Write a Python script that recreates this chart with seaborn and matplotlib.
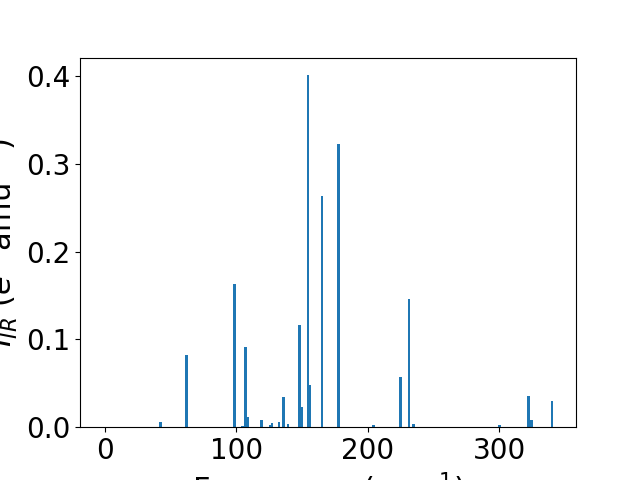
import numpy as np
import pandas as pd
import matplotlib
matplotlib.use("Agg")
import matplotlib.pyplot as plt
import seaborn as sns

# Vibrational frequencies (cm^-1) and IR intensities
freq = [42.1, 61.9, 98.4, 104.5, 107.1, 108.6, 119.0, 126.1, 127.1, 132.5,
        136.0, 139.3, 147.9, 149.7, 154.4, 155.5, 165.2, 177.7, 204.3, 225.1,
        231.4, 234.6, 300.5, 322.3, 324.5, 340.2]
inten = [0.006, 0.082, 0.163, 0.0015, 0.0915, 0.0115, 0.008, 0.0025, 0.0045, 0.0057,
         0.034, 0.0034, 0.116, 0.023, 0.401, 0.048, 0.263, 0.3225, 0.0023, 0.057,
         0.146, 0.0034, 0.0023, 0.0353, 0.008, 0.0296]

bar_width = 2.0  # in cm^-1

df = pd.DataFrame({"freq": freq, "inten": inten})

fig, ax = plt.subplots(figsize=(6.4, 4.8), dpi=100)
min_gap = np.min(np.diff(np.unique(df["freq"])))
sns.barplot(data=df, x="freq", y="inten", native_scale=True,
            width=bar_width / min_gap, color="#1f77b4", saturation=1,
            errorbar=None, ax=ax)

ax.set_xlim(-19, 358.5)
ax.set_xlabel("Frequency (cm$^{-1}$)", fontsize=22)
ax.set_ylabel("$I_{IR}$ ($e^2$ amu$^{-1}$)", fontsize=22)
ax.tick_params(labelsize=20)

fig.savefig("out.png", dpi=100)
